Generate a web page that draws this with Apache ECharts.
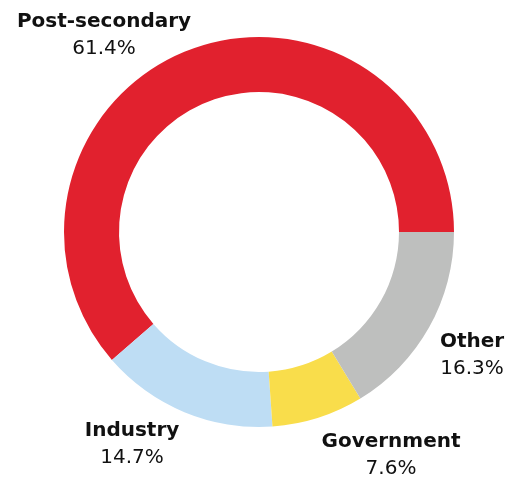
<!DOCTYPE html>
<html>
<head>
<meta charset="utf-8">
<script src="https://cdn.jsdelivr.net/npm/echarts@6/dist/echarts.min.js"></script>
<style>html,body{margin:0;padding:0;background:#fff}#c{width:511px;height:480px}</style>
</head>
<body>
<div id="c"></div>
<script>
const categories = ["Post-secondary", "Industry", "Government", "Other"];
const values = [61.4, 14.7, 7.6, 16.3];
const colors = ["#E1212E", "#BEDDF4", "#F9DD4B", "#BEBFBE"];
// label anchor positions (centre of the two-line label block)
const labelPos = [[104, 35], [132, 444], [391, 455], [472, 355]];

const chart = echarts.init(document.getElementById('c'), null, {renderer: 'canvas'});
chart.setOption({
  animation: false,
  series: [{
    type: 'pie',
    center: [259, 232],
    radius: [140, 195],
    startAngle: 0,
    clockwise: false,
    data: categories.map((n, i) => ({name: n, value: values[i], itemStyle: {color: colors[i]}})),
    label: {
      show: true,
      position: 'outside',
      overflow: 'none',
      formatter: p => '{n|' + p.name + '}\n{v|' + p.value.toFixed(1) + '%}',
      align: 'center',
      rich: {
        n: {fontFamily: 'DejaVu Sans', fontWeight: 'bold', fontSize: 20, color: '#111', lineHeight: 27, align: 'center'},
        v: {fontFamily: 'DejaVu Sans', fontWeight: 'normal', fontSize: 20, color: '#111', lineHeight: 27, align: 'center'}
      }
    },
    labelLine: {show: false},
    labelLayout: p => ({x: labelPos[p.dataIndex][0], y: labelPos[p.dataIndex][1], align: 'center', verticalAlign: 'middle'}),
    emphasis: {disabled: true}
  }]
});
</script>
</body>
</html>
